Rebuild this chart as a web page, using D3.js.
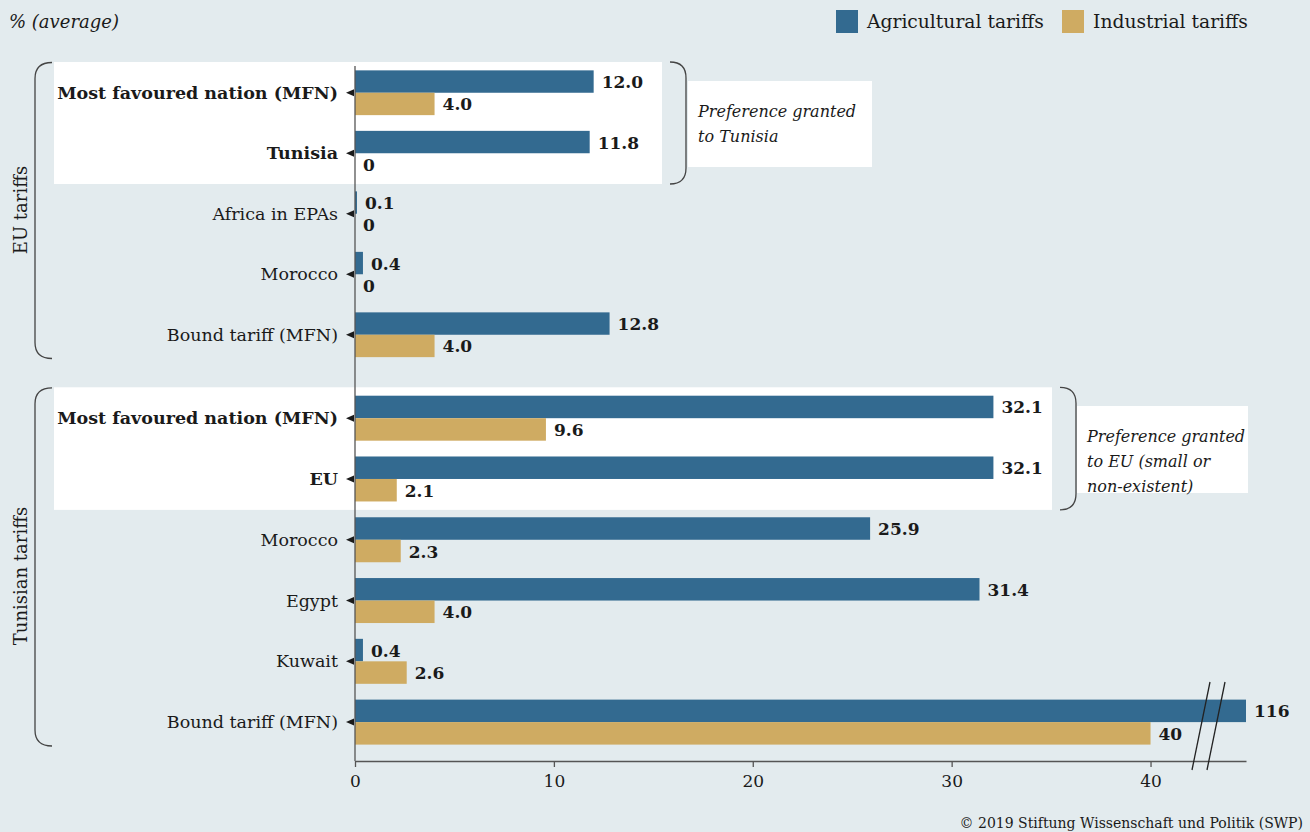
<!DOCTYPE html>
<html>
<head>
<meta charset="utf-8">
<script src="https://cdn.jsdelivr.net/npm/d3@7"></script>
<style>
  body { margin: 0; background: #e3ebee; }
  svg { display: block; font-family: 'DejaVu Serif', serif; }
</style>
</head>
<body>
<div class="chart"></div>
<script>
const width = 1310;
const height = 832;
const blue = '#336a90';
const gold = '#cfab62';
const ink = '#1a1a1a';

// data
const seriesNames = ['Agricultural tariffs', 'Industrial tariffs'];
const euCategories = ['Most favoured nation (MFN)', 'Tunisia', 'Africa in EPAs', 'Morocco', 'Bound tariff (MFN)'];
const euAgricultural = [12.0, 11.8, 0.1, 0.4, 12.8];
const euIndustrial = [4.0, 0, 0, 0, 4.0];
const tnCategories = ['Most favoured nation (MFN)', 'EU', 'Morocco', 'Egypt', 'Kuwait', 'Bound tariff (MFN)'];
const tnAgricultural = [32.1, 32.1, 25.9, 31.4, 0.4, 116];
const tnIndustrial = [9.6, 2.1, 2.3, 4.0, 2.6, 40];
const xTicks = [0, 10, 20, 30, 40];
const xMax = 44.8; // axis is broken after this

const svg = d3.select('.chart').append('svg')
  .attr('width', width)
  .attr('height', height);

const x = d3.scaleLinear().domain([0, xMax]).range([355, 1246]);
const axisBottomY = 761;

// subtitle
svg.append('text')
  .attr('x', 9).attr('y', 28)
  .attr('font-size', 18).attr('font-style', 'italic')
  .attr('fill', ink)
  .text('% (average)');

// legend
const legend = svg.append('g').attr('id', 'legend');
const legendX = [836, 1062];
[blue, gold].forEach((c, i) => {
  legend.append('rect')
    .attr('x', legendX[i]).attr('y', 10)
    .attr('width', 22).attr('height', 23)
    .attr('fill', c);
  legend.append('text')
    .attr('x', legendX[i] + 31).attr('y', 28)
    .attr('font-size', 18.7).attr('fill', ink)
    .text(seriesNames[i]);
});

function fmt(v) {
  if (v === 0) return '0';
  if (v >= 40) return d3.format('d')(v);
  return d3.format('.1f')(v);
}

function bracket(g, xEdge, xCurve, top, bottom) {
  const r = 16;
  const path = d3.path();
  path.moveTo(xCurve, top);
  path.quadraticCurveTo(xEdge, top, xEdge, top + r);
  path.lineTo(xEdge, bottom - r);
  path.quadraticCurveTo(xEdge, bottom, xCurve, bottom);
  g.append('path')
    .attr('d', path.toString())
    .attr('fill', 'none')
    .attr('stroke', '#444')
    .attr('stroke-width', 1.3);
}

function drawSection(opts) {
  const { categories, agri, ind, range, boxRight, note, noteBox, noteBracketX, groupLabel, groupLabelY } = opts;
  const y = d3.scaleBand()
    .domain(categories.map((d, i) => i))
    .range(range)
    .paddingInner(0.26)
    .paddingOuter(0.13);
  const step = y.step();
  const sub = d3.scaleBand().domain([0, 1]).range([0, y.bandwidth()]);
  const g = svg.append('g');

  // white highlight of the first two rows
  const top = y(0) - step * 0.13 - 0.5;
  const bottom = y(1) + y.bandwidth() + step * 0.13 + 0.5;
  g.append('rect')
    .attr('x', 54).attr('y', top)
    .attr('width', boxRight - 54).attr('height', bottom - top)
    .attr('fill', '#fff');

  // note on the right
  bracket(g, noteBracketX + 16, noteBracketX, top, bottom);
  g.append('rect')
    .attr('x', noteBox[0]).attr('y', noteBox[1])
    .attr('width', noteBox[2]).attr('height', noteBox[3])
    .attr('fill', '#fff');
  g.append('text')
    .attr('font-size', 16).attr('font-style', 'italic').attr('fill', ink)
    .selectAll('tspan')
    .data(note)
    .join('tspan')
    .attr('x', noteBox[0] + 10)
    .attr('y', (d, i) => noteBox[1] + 36 + i * 25)
    .text((d) => d);

  // group bracket and label
  bracket(g, 35, 52, range[0], range[1] - 6.5);
  g.append('text')
    .attr('transform', `translate(27, ${groupLabelY}) rotate(-90)`)
    .attr('text-anchor', 'middle')
    .attr('font-size', 18).attr('fill', ink)
    .text(groupLabel);

  // category labels and tick arrows
  categories.forEach((c, i) => {
    const cy = y(i) + y.bandwidth() / 2;
    g.append('text')
      .attr('x', 338).attr('y', cy + 6)
      .attr('text-anchor', 'end')
      .attr('font-size', 17.5)
      .attr('font-weight', i < 2 ? 'bold' : 'normal')
      .attr('fill', ink)
      .text(c);
    g.append('path')
      .attr('d', `M${x(0) - 9},${cy} L${x(0) - 1},${cy - 3.5} L${x(0) - 1},${cy + 3.5} Z`)
      .attr('fill', ink);
  });

  // bars
  [agri, ind].forEach((values, s) => {
    g.append('g')
      .selectAll('rect')
      .data(values)
      .join('rect')
      .attr('x', x(0))
      .attr('y', (d, i) => y(i) + sub(s))
      .attr('width', (d) => x(Math.min(d, xMax)) - x(0))
      .attr('height', sub.bandwidth())
      .attr('fill', s === 0 ? blue : gold);
    g.append('g')
      .selectAll('text')
      .data(values)
      .join('text')
      .attr('x', (d) => x(Math.min(d, xMax)) + 8)
      .attr('y', (d, i) => y(i) + sub(s) + sub.bandwidth() / 2 + 6.5)
      .attr('font-size', 17).attr('font-weight', 'bold').attr('fill', ink)
      .text((d) => fmt(d));
  });
}

drawSection({
  categories: euCategories,
  agri: euAgricultural,
  ind: euIndustrial,
  range: [62.5, 365],
  boxRight: 662,
  note: ['Preference granted', 'to Tunisia'],
  noteBox: [688, 81, 184, 86],
  noteBracketX: 670,
  groupLabel: 'EU tariffs',
  groupLabelY: 210,
});

drawSection({
  categories: tnCategories,
  agri: tnAgricultural,
  ind: tnIndustrial,
  range: [387.8, 752.5],
  boxRight: 1052,
  note: ['Preference granted', 'to EU (small or', 'non-existent)'],
  noteBox: [1077, 406, 171, 87],
  noteBracketX: 1060,
  groupLabel: 'Tunisian tariffs',
  groupLabelY: 576,
});

// y axis line
svg.append('line')
  .attr('x1', x(0)).attr('x2', x(0))
  .attr('y1', 66).attr('y2', axisBottomY)
  .attr('stroke', '#555').attr('stroke-width', 1.3);

// x axis
const xAxis = d3.axisBottom(x)
  .tickValues(xTicks)
  .tickSize(6)
  .tickSizeOuter(0)
  .tickPadding(8);
const xg = svg.append('g')
  .attr('transform', `translate(0, ${axisBottomY})`)
  .call(xAxis);
xg.select('.domain').attr('stroke', '#555').attr('stroke-width', 1.3);
xg.selectAll('.tick line').attr('stroke', '#555').attr('stroke-width', 1.3);
xg.selectAll('.tick text')
  .attr('font-family', "'DejaVu Serif', serif")
  .attr('font-size', 17)
  .attr('fill', ink);

// axis break marks
[0, 15].forEach((dx) => {
  svg.append('line')
    .attr('x1', 1192 + dx).attr('y1', 770)
    .attr('x2', 1210 + dx).attr('y2', 682)
    .attr('stroke', '#222').attr('stroke-width', 1.3);
});

// source
svg.append('text')
  .attr('x', 1303).attr('y', 828)
  .attr('text-anchor', 'end')
  .attr('font-size', 14).attr('fill', ink)
  .text('\u00a9 2019 Stiftung Wissenschaft und Politik (SWP)');
</script>
</body>
</html>
